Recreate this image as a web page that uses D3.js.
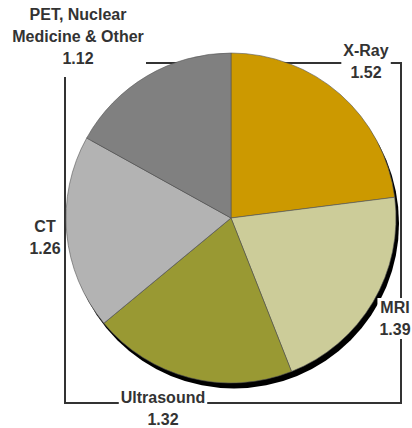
<!DOCTYPE html>
<html>
<head>
<meta charset="utf-8">
<script src="https://cdn.jsdelivr.net/npm/d3@7/dist/d3.min.js"></script>
<style>
  html, body { margin: 0; padding: 0; background: #fff; }
  svg { display: block; }
  text { font-family: "Liberation Sans", Arial, sans-serif; font-weight: bold; fill: #333; }
</style>
</head>
<body>
<svg id="chart" width="412" height="428"></svg>
<script>
// ---- data ----
const categories = ["X-Ray", "MRI", "Ultrasound", "CT", "PET, Nuclear Medicine & Other"];
const values = [1.52, 1.39, 1.32, 1.26, 1.12];
const labelLines = [["X-Ray"], ["MRI"], ["Ultrasound"], ["CT"], ["PET, Nuclear", "Medicine & Other"]];
const colors = ["#CC9900", "#CCCC99", "#999933", "#B3B3B3", "#808080"];

// ---- layout ----
const W = 412, H = 428;
const cx = 231, cy = 218, R = 165;
const fontSize = 16, lineH = 22;
// label anchor (x center, baseline of first line), and whether to draw white box
const labelPos = [
  { x: 366, y: 56, box: true },
  { x: 395, y: 313, box: true },
  { x: 163, y: 403, box: true },
  { x: 45, y: 232, box: false },
  { x: 78, y: 20, box: false }
];

const svg = d3.select("#chart");

// frame lines (leader bracket)
const frame = svg.append("g").attr("stroke", "#333").attr("stroke-width", 2).attr("fill", "none");
frame.append("path").attr("d", `M65,77 L65,403 L401,403 L401,63 L146,63`);

// shadow
svg.append("ellipse").attr("cx", cx + 3).attr("cy", cy + 5.5).attr("rx", R).attr("ry", R).attr("fill", "#000");

const pie = d3.pie().sort(null).value(d => d)(values);
const arc = d3.arc().innerRadius(0).outerRadius(R);

svg.append("g").attr("transform", `translate(${cx},${cy})`)
  .selectAll("path").data(pie).join("path")
  .attr("d", arc)
  .attr("fill", (d, i) => colors[i])
  .attr("stroke", "#555")
  .attr("stroke-width", 0.6)
  .attr("stroke-linejoin", "round");

// labels
const fmt = d3.format(".2f");
labelPos.forEach((p, i) => {
  const lines = labelLines[i].concat([fmt(values[i])]);
  const g = svg.append("g");
  const t = g.append("text").attr("text-anchor", "middle").attr("font-size", fontSize);
  lines.forEach((ln, j) => {
    t.append("tspan").attr("x", p.x).attr("y", p.y + j * lineH).text(ln);
  });
  if (p.box) {
    const bb = t.node().getBBox();
    g.insert("rect", "text")
      .attr("x", bb.x - 2).attr("y", bb.y - 1)
      .attr("width", bb.width + 4).attr("height", bb.height + 2)
      .attr("fill", "#fff");
  }
});
</script>
</body>
</html>
